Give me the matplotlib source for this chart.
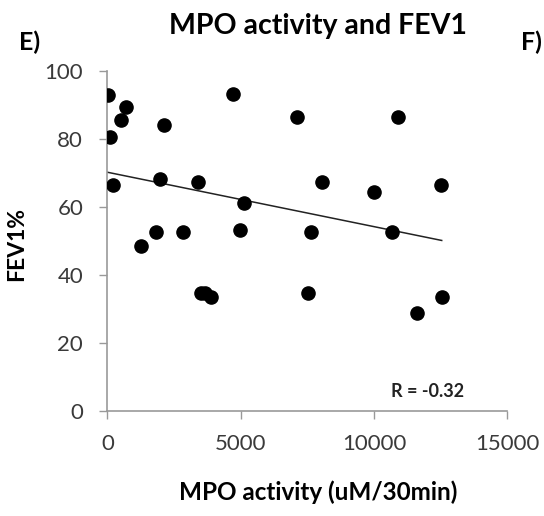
import numpy as np
import matplotlib
matplotlib.use("Agg")
import matplotlib.pyplot as plt

plt.rcParams['font.family'] = ['Lato', 'DejaVu Sans']

# MPO activity (uM/30min) vs FEV1%
mpo = [37, 100, 225, 500, 700, 1265, 1830, 1955, 2105, 2820, 3383, 3520, 3670,
       3870, 4725, 4960, 5125, 7130, 7530, 7630, 8045, 9985, 10660, 10890,
       11630, 12530, 12540]
fev1 = [93, 80.5, 66.5, 85.5, 89.5, 48.5, 52.6, 68.2, 84.2, 52.6, 67.3, 34.8, 34.8,
        33.6, 93.2, 53.3, 61.3, 86.5, 34.7, 52.6, 67.3, 64.3, 52.6, 86.5,
        28.8, 66.5, 33.6]

xticks = [0, 5000, 10000, 15000]
yticks = [0, 20, 40, 60, 80, 100]

fig = plt.figure(figsize=(5.44, 5.16), dpi=100)
ax = fig.add_axes([0.1975, 0.2035, 0.735, 0.659])

ax.scatter(mpo, fev1, s=90, color='black', zorder=3)

# linear trendline over the data range
slope, icpt = np.polyfit(mpo, fev1, 1)
xs = np.array([min(mpo) - 37, max(mpo)])
ax.plot(xs, slope * xs + icpt, color='#222222', lw=1.1, zorder=2)

ax.set_xlim(0, 15000)
ax.set_ylim(0, 100)
ax.set_xticks(xticks)
ax.set_yticks(yticks)
ax.tick_params(colors='#999999', labelcolor='#3a3a3a', labelsize=16, length=5.5, width=1)
ax.tick_params(axis='x', pad=11)
ax.tick_params(axis='y', pad=12)
for s in ['top', 'right']:
    ax.spines[s].set_visible(False)
for s in ['left', 'bottom']:
    ax.spines[s].set_color('#999999')
    ax.spines[s].set_linewidth(1.2)

ax.set_xlabel('MPO activity (uM/30min)', fontsize=17.5, fontweight='bold')
ax.xaxis.set_label_coords(0.526, -0.205)
ax.set_ylabel('FEV1%', fontsize=16.5, fontweight='bold')
ax.yaxis.set_label_coords(-0.2, 0.49)

fig.text(0.585, 0.95, 'MPO activity and FEV1', fontsize=20.5, fontweight='bold',
         ha='center', va='center')
fig.text(0.035, 0.918, 'E)', fontsize=18, fontweight='bold', va='center')
fig.text(0.958, 0.918, 'F)', fontsize=18, fontweight='bold', va='center')
ax.text(0.708, 0.057, 'R = -0.32', transform=ax.transAxes, fontsize=13,
        fontweight='bold', color='#222222', va='center')

fig.savefig('out.png', dpi=100)
